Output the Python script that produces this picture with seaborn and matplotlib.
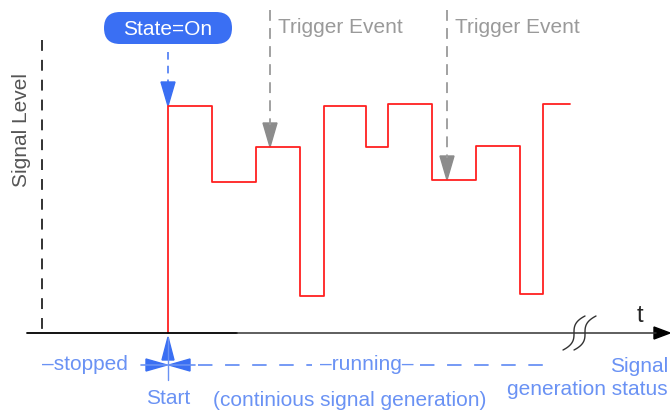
import numpy as np
import seaborn as sb
import matplotlib.pyplot as plt
import pandas as pd
from matplotlib.patches import FancyBboxPatch, Polygon

# signal level steps (x in px, level in px from top)
step_x = [168, 168, 212, 256, 300, 324, 366, 388, 432, 476, 520, 543, 570]
step_y = [333, 106, 182, 147, 296, 106, 147, 104, 180, 146, 294, 104, 104]

# trigger events
trig_x = [270, 447]
trig_y = [147, 180]
trig_label = "Trigger Event"

start_x = 168
axis_y = 333

status_labels = ["\u2013stopped", "\u2013running\u2013", "Start",
                 "(continious signal generation)", "Signal\ngeneration status"]

sb.set_style("white")
plt.rcParams['font.family'] = ['Liberation Sans', 'DejaVu Sans']

fig = plt.figure(figsize=(6.7, 4.12), dpi=100)
ax = fig.add_axes([0, 0, 1, 1])
ax.set_xlim(0, 670)
ax.set_ylim(412, 0)
ax.axis("off")

blue = "#3a6ff3"
lblue = "#6a92f4"
grey = "#9a9a9a"
fs = 15

df = pd.DataFrame({"x": step_x, "y": step_y})
sb.lineplot(data=df, x="x", y="y", drawstyle="steps-post", color="#ff2020",
            lw=1.3, sort=False, estimator=None, ax=ax)

# time axis
ax.plot([27, 237], [axis_y, axis_y], color="black", lw=1.3)
ax.plot([237, 656], [axis_y, axis_y], color="#333333", lw=1.1)
ax.add_patch(Polygon([[654, axis_y - 6], [670, axis_y], [654, axis_y + 6]],
                     closed=True, color="black"))
ax.text(640, 316, "t", fontsize=17, ha="center", va="center")

# break marks
tt = np.linspace(-1, 1, 60)
for cx in [574, 585]:
    ax.plot(cx + 11 * tt ** 3, axis_y - 17 * tt, color="#333333", lw=1.0)

# signal level axis
ax.plot([42, 42], [40, axis_y], color="#222222", lw=1.3, ls=(0, (6, 5)))
ax.text(22, 130, "Signal Level", rotation=90, fontsize=fs, color="#555555",
        ha="center", va="center")

# State=On
ax.add_patch(FancyBboxPatch((104, 12), 128, 32,
                            boxstyle="round,pad=0,rounding_size=16",
                            fc=blue, ec="none"))
ax.text(168, 29, "State=On", color="white", fontsize=fs, ha="center", va="center")
ax.plot([168, 168], [52, 82], color=blue, lw=1.1, ls=(0, (5, 4)))
ax.add_patch(Polygon([[161, 82], [175, 82], [168, 106]], closed=True, color=blue))

# trigger events
for tx, ty in zip(trig_x, trig_y):
    ax.plot([tx, tx], [10, ty - 22], color=grey, lw=1.3, ls=(0, (6, 4)))
    ax.add_patch(Polygon([[tx - 7, ty - 24], [tx + 7, ty - 24], [tx, ty]],
                         closed=True, color="#8c8c8c"))
    ax.text(tx + 8, 27, trig_label, color=grey, fontsize=fs, ha="left", va="center")

# signal generation status
sy = 365
ax.plot([start_x, start_x], [338, 380], color=lblue, lw=1.0)
ax.add_patch(Polygon([[start_x - 6, 360], [start_x + 6, 360], [start_x, 337]],
                     closed=True, color=blue))
ax.add_patch(Polygon([[start_x - 22, sy - 6], [start_x - 22, sy + 6], [start_x - 1, sy]],
                     closed=True, color=blue))
ax.add_patch(Polygon([[start_x + 22, sy - 6], [start_x + 22, sy + 6], [start_x + 1, sy]],
                     closed=True, color=blue))
ax.plot([141, 195], [sy, sy], color=lblue, lw=1.2)
ax.plot([198, 312], [sy, sy], color=lblue, lw=1.3, ls=(0, (8, 7)))
ax.plot([420, 545], [sy, sy], color=lblue, lw=1.3, ls=(0, (8, 7)))
ax.text(42, sy, status_labels[0], color=lblue, fontsize=fs, ha="left", va="center")
ax.text(367, sy, status_labels[1], color=lblue, fontsize=fs, ha="center", va="center")
ax.text(start_x, 398, status_labels[2], color=lblue, fontsize=fs, ha="center", va="center")
ax.text(350, 400, status_labels[3], color=lblue, fontsize=fs, ha="center", va="center")
ax.text(668, 378, status_labels[4], color=lblue, fontsize=fs, ha="right", va="center",
        multialignment="right", linespacing=1.25)

plt.savefig("out.png", dpi=100)
